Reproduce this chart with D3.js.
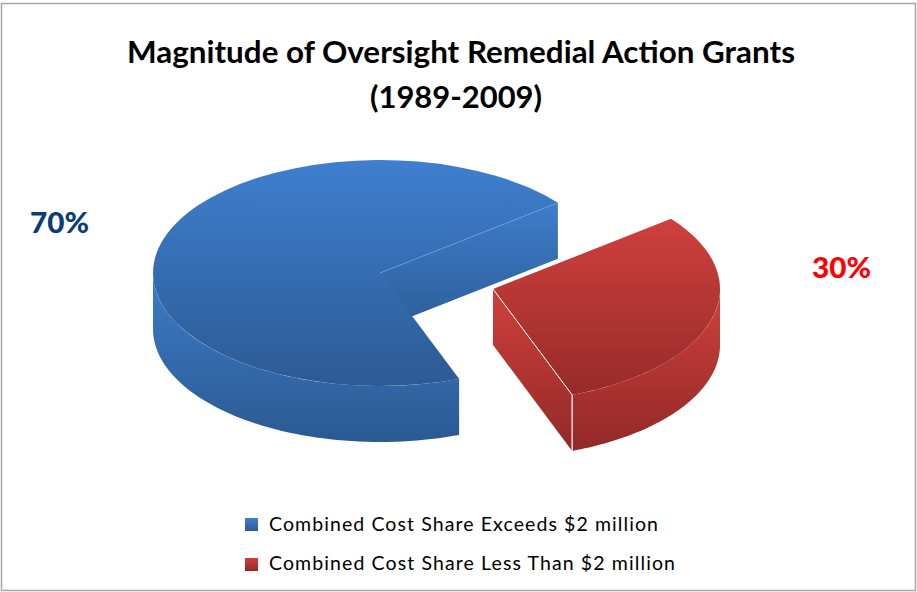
<!DOCTYPE html>
<html><head><meta charset="utf-8">
<script src="https://cdn.jsdelivr.net/npm/d3@7"></script>
<style>html,body{margin:0;padding:0;background:#fff}svg{display:block}text{font-family:Lato,"Open Sans",sans-serif}</style>
</head><body><div id="c"></div>
<script>
const categories=["Combined Cost Share Exceeds $2 million","Combined Cost Share Less Than $2 million"];
const values=[70,30];
const labels=["70%","30%"];
const titleLines=["Magnitude of Oversight Remedial Action Grants","(1989-2009)"];
const W=917,H=592;
const svg=d3.select("#c").append("svg").attr("width",W).attr("height",H);
const defs=svg.append("defs");
const rad=d3.scaleLinear().domain([0,360]).range([0,2*Math.PI]);
const pie=d3.pie().sort(null).startAngle(rad(159.6)).endAngle(rad(519.6));
const arcs=pie(values);
const geo=[{cx:380,cy:273,depth:56},{cx:493,cy:289,depth:56}];
const rx=227,ry=113;
function grad(id,y1,y2,c1,c2){
  const g=defs.append("linearGradient").attr("id",id).attr("gradientUnits","userSpaceOnUse")
    .attr("x1",0).attr("x2",0).attr("y1",y1).attr("y2",y2);
  g.append("stop").attr("offset",0).attr("stop-color",c1);
  g.append("stop").attr("offset",1).attr("stop-color",c2);
}
// the top faces are drawn in unit-circle space, so their gradients run in that space too
grad("bTop",-1,1,"#3f7fcf","#2c5a94");
grad("rTop",-0.62,0.94,"#cf403d","#962b29");
grad("bCut",204,316,"#3e7cca","#2e619e");
grad("bWall",280,441,"#3d7ac6","#2b5a92");
grad("rWall",289,451,"#d0403d","#912927");
grad("bSw",518,531,"#3f7fcf","#2c5a94");
grad("rSw",558,571,"#cf403d","#912927");

svg.append("rect").attr("x",1.5).attr("y",3.5).attr("width",W-3).attr("height",H-5)
  .attr("fill","#fff").attr("stroke","#a6a6a6").attr("stroke-width",1.5);

const tx=[461,456],ty=[63,108],tl=[668,172];
svg.selectAll("text.t").data(titleLines).join("text").attr("class","t")
  .attr("x",(d,i)=>tx[i]).attr("y",(d,i)=>ty[i]).attr("text-anchor","middle")
  .attr("font-size",31).attr("font-weight",700).attr("fill","#000")
  .attr("textLength",(d,i)=>tl[i]).attr("lengthAdjust","spacingAndGlyphs").text(d=>d);

const px=(g,a)=>g.cx+rx*Math.sin(a), py=(g,a)=>g.cy-ry*Math.cos(a);
const line=d3.line();
const arcUnit=d3.arc().innerRadius(0).outerRadius(1);
function sample(a0,a1){const n=60;return d3.range(n+1).map(i=>a0+(a1-a0)*i/n);}
function outerWall(g,a0,a1){
  const as=sample(a0,a1);
  const top=as.map(a=>[px(g,a),py(g,a)]);
  const bot=as.slice().reverse().map(a=>[px(g,a),py(g,a)+g.depth]);
  return line(top.concat(bot))+"Z";
}
function cutWall(g,a){
  return line([[g.cx,g.cy],[px(g,a),py(g,a)],[px(g,a),py(g,a)+g.depth],[g.cx,g.cy+g.depth]])+"Z";
}
function topFace(g,d,fill){
  svg.append("path").attr("transform",`translate(${g.cx},${g.cy}) scale(${rx},${ry})`)
    .attr("d",arcUnit({startAngle:d.startAngle,endAngle:d.endAngle})).attr("fill",fill);
}
const blue=arcs[0],red=arcs[1];
const g0=geo[0],g1=geo[1];
// blue slice
svg.append("path").attr("d",cutWall(g0,blue.endAngle)).attr("fill","url(#bCut)");
svg.append("path").attr("d",outerWall(g0,blue.startAngle,rad(270))).attr("fill","url(#bWall)");
topFace(g0,blue,"url(#bTop)");
svg.append("path").attr("d",line([[g0.cx,g0.cy],[px(g0,blue.endAngle),py(g0,blue.endAngle)]]))
  .attr("stroke","#7fa8dc").attr("stroke-width",0.7).attr("stroke-dasharray","2 1").attr("fill","none");
// red slice
const ra=red.endAngle-2*Math.PI;
svg.append("path").attr("d",cutWall(g1,ra)).attr("fill","url(#rWall)");
svg.append("path").attr("d",outerWall(g1,rad(90),ra)).attr("fill","url(#rWall)");
topFace(g1,{startAngle:red.startAngle-2*Math.PI,endAngle:ra},"url(#rTop)");
svg.append("path").attr("d",line([[g1.cx,g1.cy],[px(g1,ra),py(g1,ra)]]))
  .attr("stroke","#fff").attr("stroke-width",1).attr("fill","none");
svg.append("path").attr("d",line([[px(g1,ra),py(g1,ra)],[px(g1,ra),py(g1,ra)+g1.depth]]))
  .attr("stroke","#fff").attr("stroke-width",1.2).attr("fill","none");

// data labels
const lx=[30,812],ly=[233,278],lc=["#0c3c78","#ff0000"];
svg.selectAll("text.l").data(labels).join("text").attr("class","l")
  .attr("x",(d,i)=>lx[i]).attr("y",(d,i)=>ly[i]).attr("font-size",29).attr("font-weight",900)
  .attr("fill",(d,i)=>lc[i]).attr("textLength",59).attr("lengthAdjust","spacingAndGlyphs").text(d=>d);

// legend
const sy=[518,558],by=[531,570],lw=[389,406],sw=["url(#bSw)","url(#rSw)"];
svg.selectAll("rect.s").data(categories).join("rect").attr("class","s")
  .attr("x",245).attr("y",(d,i)=>sy[i]).attr("width",13).attr("height",13).attr("fill",(d,i)=>sw[i]);
svg.selectAll("text.g").data(categories).join("text").attr("class","g")
  .attr("x",269).attr("y",(d,i)=>by[i]).attr("font-size",19.5).attr("fill","#000")
  .attr("textLength",(d,i)=>lw[i]).attr("lengthAdjust","spacing").text(d=>d);
</script></body></html>
